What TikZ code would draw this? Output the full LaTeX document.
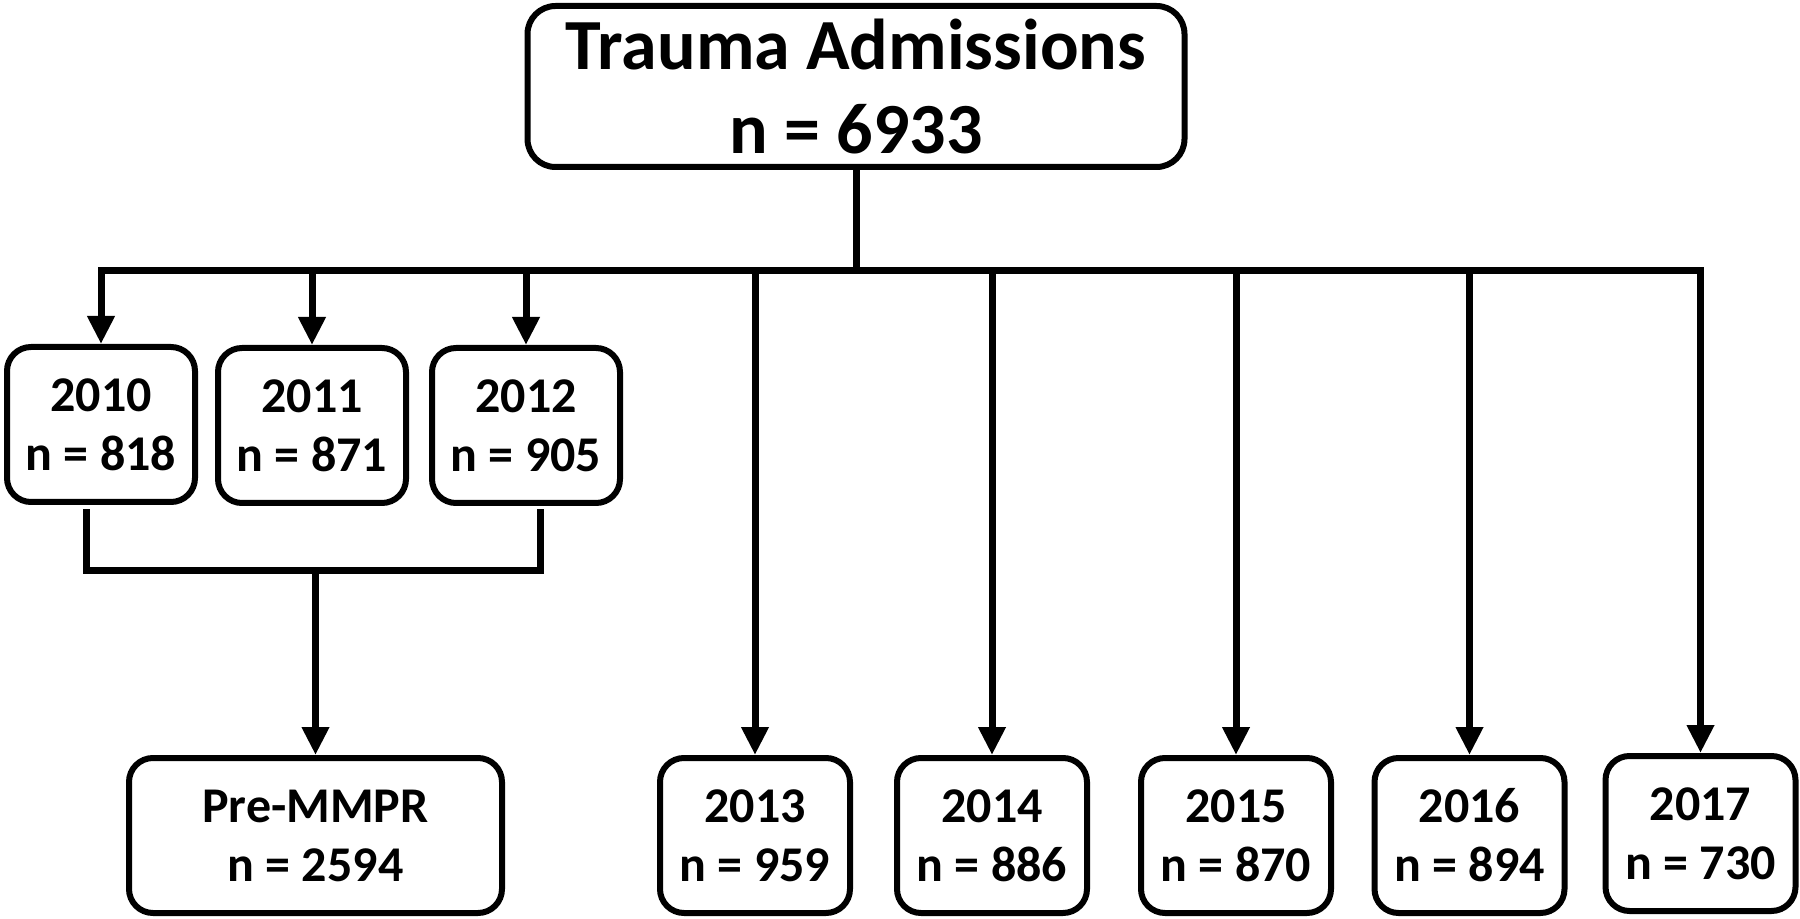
\documentclass[tikz,border=0pt]{standalone}
\usepackage{fontspec}
\setmainfont{Carlito}
\usetikzlibrary{arrows.meta}
\tikzset{
  box/.style={draw=black, line width=3pt, rounded corners=12pt, fill=white,
    align=center, inner sep=0pt, font=\bfseries\fontsize{25}{29.5}\selectfont},
  smallbox/.style={box, minimum width=94pt, minimum height=77.5pt},
  lowbox/.style={box, minimum width=95pt, minimum height=77.5pt},
  topbox/.style={box, rounded corners=14pt, minimum width=328.5pt, minimum height=80.5pt,
    font=\bfseries\fontsize{36}{42}\selectfont},
  wire/.style={line width=3.5pt, line cap=rect},
  arr/.style={line width=3.5pt, -{Triangle[width=13pt,length=14pt]}}
}
\begin{document}
\begin{tikzpicture}[x=0.5pt,y=-0.5pt]
\useasboundingbox (0,0) rectangle (1800,919);
% nodes
\node[topbox] (top) at (856,86.5) {Trauma Admissions\\n = 6933};
\node[smallbox] (b2010) at (101,424.5) {2010\\n = 818};
\node[smallbox] (b2011) at (312,425.5) {2011\\n = 871};
\node[smallbox] (b2012) at (526,425.5) {2012\\n = 905};
\node[box, minimum width=186.5pt, minimum height=77.5pt] (pre) at (315.5,835.5) {Pre-MMPR\\n = 2594};
\node[lowbox] (b2013) at (755,835.5) {2013\\n = 959};
\node[lowbox] (b2014) at (992,835.5) {2014\\n = 886};
\node[lowbox] (b2015) at (1236,835.5) {2015\\n = 870};
\node[lowbox] (b2016) at (1469.5,835.5) {2016\\n = 894};
\node[lowbox] (b2017) at (1700.5,833.5) {2017\\n = 730};
% bus
\coordinate (busL) at (101,271);
\coordinate (busR) at (1700.5,271);
\draw[wire] (top.south) -- (top.south |- busL);
\draw[wire] (busL) -- (busR);
\foreach \n in {b2010,b2011,b2012,b2013,b2014,b2015,b2016,b2017}{
  \draw[arr] (\n.north |- busL) -- (\n.north);
}
% bracket
\coordinate (brL) at (86,513);
\coordinate (brR) at (540,513);
\coordinate (brM) at (315.5,571);
\draw[wire] (brL) -- (brL |- brM) -- (brR |- brM) -- (brR);
\draw[arr] (brM) -- (pre.north);
\end{tikzpicture}
\end{document}
